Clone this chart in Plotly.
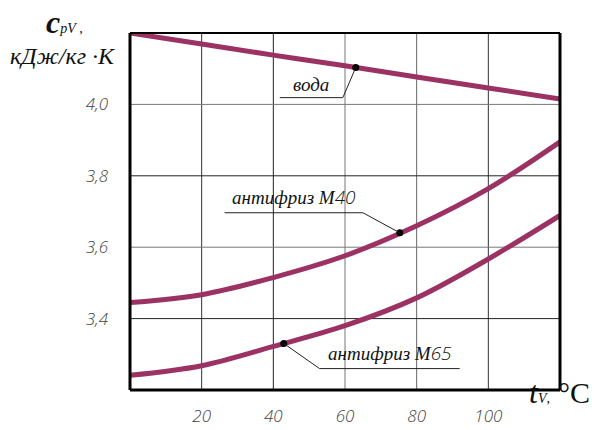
import numpy as np
import plotly.graph_objects as go

# ---- data ----
t = [0, 20, 40, 60, 80, 100, 120]
voda = [4.200, 4.169, 4.138, 4.108, 4.077, 4.046, 4.015]
m40 = [3.445, 3.467, 3.515, 3.576, 3.660, 3.764, 3.895]
m65 = [3.241, 3.268, 3.322, 3.380, 3.458, 3.567, 3.689]
ytick_vals = [3.4, 3.6, 3.8, 4.0]
ytick_text = ["3,4", "3,6", "3,8", "4,0"]
xtick_vals = [20, 40, 60, 80, 100]
xtick_text = ["20", "40", "60", "80", "100"]

CURVE = "#9C3163"
SERIF = "Liberation Serif"
SANS = "Open Sans"

fig = go.Figure()
for ys in (voda, m40, m65):
    fig.add_trace(go.Scatter(x=t, y=ys, mode="lines",
                             line=dict(color=CURVE, width=5, shape="spline", smoothing=1.0),
                             hoverinfo="skip", showlegend=False, cliponaxis=False))

# grid lines (mixed tones like the original)
for xv, c in zip(xtick_vals, ["#333", "#222", "#777", "#666", "#333"]):
    fig.add_shape(type="line", x0=xv, x1=xv, y0=0, y1=1, xref="x", yref="paper",
                  line=dict(color=c, width=1), layer="below")
for yv, c in zip(ytick_vals, ["#222", "#777", "#222", "#777"]):
    fig.add_shape(type="line", x0=0, x1=1, y0=yv, y1=yv, xref="paper", yref="y",
                  line=dict(color=c, width=1), layer="below")

# frame (paper coords = plot area)
frame = [((0, 1), (1, 1), 2), ((1, 1), (0, 1), 3),
         ((0, 0), (0, 1), 3), ((0, 1), (0, 0), 3)]
for (xa, xb), (ya, yb), w in frame:
    fig.add_shape(type="line", x0=xa, x1=xb, y0=ya, y1=yb, xref="paper", yref="paper",
                  line=dict(color="black", width=w))

# labels with leader lines
num = "<span style='font-family:Open Sans;font-weight:300;font-style:italic'>"
labels = [
    # text, series, dot x, underline x0, x1, underline y, leader end x
    ("<i>вода</i>", voda, 63.0, 41.8, 59.4, 4.019, 59.4),
    ("<i>антифриз М</i>" + num + "40</span>", m40, 75.3, 26.4, 65.0, 3.6965, 65.0),
    ("<i>антифриз М</i>" + num + "65</span>", m65, 42.9, 52.9, 92.0, 3.260, 52.9),
]
for txt, ys, dx, u0, u1, uy, lx in labels:
    dy = float(np.interp(dx, t, ys))
    fig.add_shape(type="line", x0=u0, x1=u1, y0=uy, y1=uy, xref="x", yref="y",
                  line=dict(color="#222", width=1))
    fig.add_shape(type="line", x0=lx, x1=dx, y0=uy, y1=dy, xref="x", yref="y",
                  line=dict(color="#222", width=1))
    fig.add_trace(go.Scatter(x=[dx], y=[dy], mode="markers",
                             marker=dict(color="black", size=7), hoverinfo="skip", showlegend=False))
    fig.add_annotation(x=(u0 + u1) / 2, y=uy, xref="x", yref="y", text=txt, showarrow=False,
                       yanchor="bottom", yshift=1,
                       font=dict(family=SERIF, size=19, color="#111"), xanchor="center")

# axis titles
fig.add_annotation(xref="paper", yref="paper", x=-0.2, y=1.087, xanchor="left", yanchor="top",
                   showarrow=False,
                   text="<b><i>c</i></b><span style='font-size:14px'><i>pV</i> ,</span>",
                   font=dict(family=SERIF, size=32, color="#111"))
fig.add_annotation(xref="paper", yref="paper", x=-0.283, y=0.978, xanchor="left", yanchor="top",
                   showarrow=False,
                   text="<i>кДж/кг ·К</i>", font=dict(family=SERIF, size=24, color="#111"))
fig.add_annotation(xref="paper", yref="paper", x=1.074, y=-0.062, xanchor="right", showarrow=False,
                   text="<i>t</i><span style='font-size:14px'><i>V</i>,</span> "
                        "<span style='font-size:30px'>°C</span>",
                   font=dict(family=SERIF, size=32, color="#111"))

fig.update_xaxes(range=[0, 120], tickvals=xtick_vals, ticktext=xtick_text, showgrid=False,
                 zeroline=False, showline=False, ticks="", ticklabelstandoff=14,
                 tickfont=dict(family=SANS, size=17, color="#444", style="italic", weight=300))
fig.update_yaxes(range=[3.2, 4.2], tickvals=ytick_vals, ticktext=ytick_text, showgrid=False,
                 zeroline=False, showline=False, ticks="", ticklabelstandoff=21,
                 tickfont=dict(family=SANS, size=17, color="#444", style="italic", weight=300))
fig.update_layout(width=594, height=439, margin=dict(l=130, r=34, t=33, b=41),
                  plot_bgcolor="white", paper_bgcolor="white")
# remove the default body margin so the figure starts at the window's corner
post = ("document.body.style.margin='0';"
        "document.documentElement.style.overflow='hidden';"
        "document.querySelectorAll('.plotly-graph-div').forEach(function(d){"
        "d.style.overflow='hidden';d.style.lineHeight='0';});"
        "document.querySelectorAll('.svg-container').forEach(function(d){"
        "d.style.verticalAlign='top';});")
fig.write_html("out.html", post_script=post, config={"displayModeBar": False})
